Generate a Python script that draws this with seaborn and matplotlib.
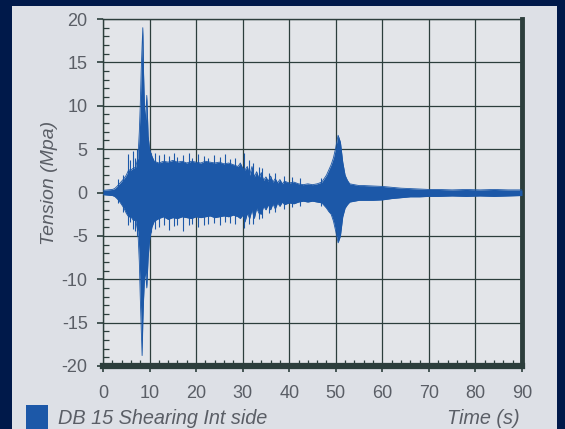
import matplotlib
matplotlib.use("Agg")
import matplotlib.pyplot as plt
import seaborn as sns
import numpy as np
from matplotlib.patches import Rectangle
from matplotlib.ticker import MultipleLocator

t_env = [0, 1, 2, 2.5, 3, 3.5, 4, 4.5, 5, 5.5, 6, 6.5, 7, 7.5, 7.8, 8.0, 8.2, 8.4,
         8.55, 8.7, 8.9, 9.1, 9.4, 9.7, 10.0, 10.5, 11,
         12, 13, 14, 15, 16, 17, 18, 19, 20, 21, 22, 23, 24, 25, 26, 27, 28,
         29, 29.5, 30, 30.5, 31, 31.5, 32, 32.5, 33, 33.5, 34, 34.5, 35, 35.5,
         36, 36.5, 37, 37.5, 38, 38.5, 39, 40, 41, 42, 43, 44, 45, 46, 47,
         47.5, 48, 48.5, 49, 49.5, 50, 50.5, 51, 51.5, 52, 52.5, 53, 54, 55,
         56, 58, 60, 62, 64, 66, 68, 70, 72, 75, 78, 81, 84, 87, 90]
upper = [0.25, 0.3, 0.35, 0.45, 0.7, 1.0, 1.3, 1.6, 2.0, 2.6, 2.6, 2.8, 2.9, 4.0, 7.0, 10.0, 14.0, 17.0,
         19.0, 14.0, 10.0, 8.0, 11.2, 6.5, 5.0, 4.2, 3.6,
         3.4, 3.6, 3.5, 3.7, 3.5, 3.6, 3.4, 3.6, 3.5, 3.4, 3.6, 3.5, 3.4, 3.5, 3.3, 3.4, 3.2,
         3.0, 3.4, 2.8, 2.6, 3.0, 2.0, 3.0, 1.8, 2.4, 1.6, 2.3, 1.4, 1.8, 1.3,
         1.9, 1.2, 1.6, 1.1, 1.5, 1.0, 1.3, 1.1, 1.2, 1.0, 0.9, 1.0, 0.9, 1.0, 1.2,
         1.6, 2.0, 2.6, 3.2, 4.0, 5.2, 6.6, 5.8, 3.5, 2.0, 1.4, 1.0, 0.9, 0.8,
         0.8, 0.75, 0.7, 0.6, 0.5, 0.45, 0.4, 0.35, 0.35, 0.3, 0.35, 0.3, 0.35, 0.3, 0.3]
lower = [-0.25, -0.3, -0.35, -0.45, -0.7, -1.0, -1.4, -1.8, -2.4, -2.8, -2.8, -3.2, -3.2, -4.5, -8.0, -12.0, -15.5, -18.8,
         -15.0, -12.5, -10.0, -9.0, -11.0, -7.5, -5.5, -4.0, -3.3,
         -3.0, -2.8, -3.1, -2.9, -3.0, -2.8, -2.9, -3.0, -2.8, -2.9, -2.8, -2.7, -2.9, -2.8, -2.7, -2.8, -2.6,
         -2.8, -3.0, -2.6, -3.4, -2.4, -3.0, -2.0, -3.0, -1.8, -2.4, -2.5, -1.6, -2.0, -1.4,
         -2.0, -1.3, -1.9, -1.2, -1.6, -1.1, -1.4, -1.2, -1.3, -1.1, -1.0, -1.1, -1.0, -1.1, -1.2,
         -1.5, -1.8, -2.2, -2.5, -3.3, -4.5, -5.8, -5.0, -2.8, -1.8, -1.4, -1.1, -1.0, -0.9,
         -0.9, -0.9, -0.85, -0.7, -0.6, -0.5, -0.5, -0.45, -0.45, -0.4, -0.45, -0.4, -0.45, -0.4, -0.35]

# single streaks that stick out of the envelope
t_spk = [3.2, 4.3, 5.4, 5.9, 6.4, 6.9, 7.3, 10.3, 11.2, 12.1, 13.0, 14.2, 15.3, 16.0, 17.1,
         18.4, 19.2, 20.5, 21.8, 22.6, 23.9, 25.1, 26.3, 27.2, 28.4, 30.2, 31.3, 32.3,
         33.6, 34.2, 35.6, 37.0, 38.8, 40.6, 42.3, 46.8]
spk_hi = [1.5, 2.0, 4.4, 3.8, 4.8, 4.0, 5.0, 4.6, 4.5, 4.3, 4.4, 4.2, 4.6, 4.1, 4.3,
          4.5, 4.0, 4.4, 4.2, 4.0, 4.3, 4.1, 4.4, 3.9, 4.0, 4.6, 3.8, 3.4,
          2.9, 2.8, 2.3, 2.2, 1.9, 1.8, 1.7, 1.7]
spk_lo = [-1.2, -2.2, -3.8, -3.4, -4.2, -4.4, -5.0, -4.5, -4.2, -4.0, -3.8, -4.3, -3.9, -3.7, -4.4,
          -3.8, -3.6, -4.0, -3.7, -3.6, -3.5, -3.8, -3.4, -3.5, -3.6, -4.1, -3.6, -3.6,
          -3.0, -2.9, -2.4, -2.3, -1.9, -1.7, -1.6, -1.5]

x_ticks = [0, 10, 20, 30, 40, 50, 60, 70, 80, 90]
y_ticks = [-20, -15, -10, -5, 0, 5, 10, 15, 20]
series_name = "DB 15 Shearing Int side"

navy = "#00194a"
panel = "#dde0e6"
blue = "#1c58a8"
dark = "#2c3e3c"
txt = "#5a5e66"

sns.set_theme(style="ticks")
plt.rcParams['font.family'] = ['Liberation Sans', 'DejaVu Sans']
plt.rcParams['axes.unicode_minus'] = False

fig = plt.figure(figsize=(5.65, 4.29), dpi=100)
fig.patch.set_facecolor(navy)
fig.patches.append(Rectangle((12 / 565, 0), 545 / 565, 423 / 429, transform=fig.transFigure,
                             facecolor=panel, edgecolor="none", zorder=-5))

ax = fig.add_axes([103 / 565, 1 - 366 / 429, 419 / 565, 347 / 429])
ax.set_zorder(5)
ax.set_facecolor("#e3e5e9")

ax.fill_between(t_env, lower, upper, color=blue, linewidth=0, zorder=3)
sns.lineplot(x=t_env, y=upper, ax=ax, color=blue, linewidth=0.6, zorder=3)
sns.lineplot(x=t_env, y=lower, ax=ax, color=blue, linewidth=0.6, zorder=3)
ax.vlines(t_spk, spk_lo, spk_hi, color=blue, linewidth=0.8, zorder=3)

ax.set_xlim(0, 90)
ax.set_ylim(-20, 20)
ax.set_xticks(x_ticks)
ax.set_yticks(y_ticks)
ax.xaxis.set_minor_locator(MultipleLocator(2))
ax.yaxis.set_minor_locator(MultipleLocator(1))
ax.grid(True, which="major", color=dark, linewidth=0.9, zorder=1)
ax.set_axisbelow(True)

for side in ["left", "top"]:
    ax.spines[side].set_linewidth(1.0)
    ax.spines[side].set_color(dark)
ax.spines["bottom"].set_linewidth(4.5)
ax.spines["bottom"].set_color(dark)
ax.spines["right"].set_linewidth(3.5)
ax.spines["right"].set_color(dark)

ax.tick_params(axis="both", which="major", direction="out", length=4, width=1.2,
               color=dark, labelsize=13, labelcolor=txt)
ax.tick_params(axis="x", which="major", pad=10)
ax.tick_params(axis="y", which="major", pad=7)
ax.tick_params(axis="both", which="minor", direction="in", length=4, width=0.9, color=dark)

ax.set_ylabel("Tension (Mpa)", fontsize=14, fontstyle="italic", color=txt)
ax.yaxis.set_label_coords(-0.108, 0.527)
ax.set_xlabel("")

fig.patches.append(Rectangle((26 / 565, 0), 22 / 565, 24 / 429, transform=fig.transFigure,
                             facecolor=blue, edgecolor="none", zorder=2))
fig.text(58 / 565, 1 - 418 / 429, series_name, fontsize=14.3, fontstyle="italic", color=txt, va="center")
fig.text(520 / 565, 1 - 418 / 429, "Time (s)", fontsize=14.3, fontstyle="italic", color=txt,
         va="center", ha="right")

fig.savefig("out.png", dpi=100, facecolor=navy)
